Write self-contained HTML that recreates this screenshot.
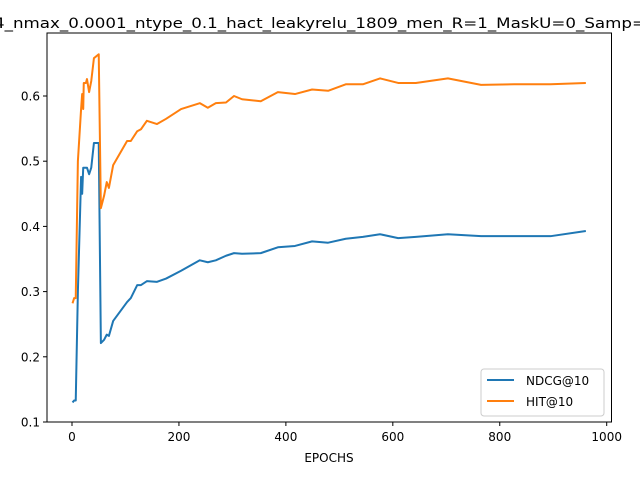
<!DOCTYPE html>
<html><head><meta charset="utf-8"><style>body{margin:0;background:#fff}svg{display:block;font-family:"DejaVu Sans","Liberation Sans",sans-serif}</style></head>
<body>
<svg id="chart" width="640" height="480" viewBox="0 0 640 480">
<rect x="0" y="0" width="640" height="480" fill="#fff"/>
<text x="-6" y="28" font-size="14.5" textLength="652" lengthAdjust="spacingAndGlyphs">4_nmax_0.0001_ntype_0.1_hact_leakyrelu_1809_men_R=1_MaskU=0_Samp=</text>
<g id="axes"></g>
<g id="series"></g>
<rect x="47" y="33" width="564.5" height="389" fill="none" stroke="#000" stroke-width="1"/>
<text x="329" y="462" font-size="12" text-anchor="middle">EPOCHS</text>
<g>
<rect x="481" y="369" width="123" height="47" rx="3" fill="#fff" fill-opacity="0.8" stroke="#ccc"/>
<line x1="487" y1="380" x2="514" y2="380" stroke="#1f77b4" stroke-width="2"/>
<text x="526" y="385" font-size="12">NDCG@10</text>
<line x1="487" y1="401" x2="514" y2="401" stroke="#ff7f0e" stroke-width="2"/>
<text x="526" y="406" font-size="12">HIT@10</text>
</g>
</svg>
<script>
const epochs=[1,4,7,11,17,19,21,22,26,28,32,36,41,50,54,60,65,69,77,103,110,122,129,140,159,176,204,239,254,269,288,303,318,353,385,417,449,479,512,544,576,610,643,703,765,827,895,961];
const hitValues=[.282,.29,.29,.50,.58,.603,.58,.62,.62,.626,.606,.623,.658,.664,.428,.447,.468,.459,.494,.531,.531,.546,.549,.562,.557,.565,.58,.589,.582,.589,.59,.6,.595,.592,.606,.603,.61,.608,.618,.618,.627,.62,.62,.627,.617,.618,.618,.62];
const ndcgValues=[.13,.133,.133,.30,.476,.45,.49,.49,.49,.49,.48,.49,.528,.528,.221,.226,.234,.232,.255,.284,.29,.31,.31,.316,.315,.32,.332,.348,.345,.348,.355,.359,.358,.359,.368,.37,.377,.375,.381,.384,.388,.382,.384,.388,.385,.385,.385,.393];
const xTicks=[0,200,400,600,800,1000];
const yTicks=[0.1,0.2,0.3,0.4,0.5,0.6];
const NS='http://www.w3.org/2000/svg';
function xs(v){return 72+v*0.5347;}
function ys(v){return 422-(v-0.1)*652;}
const axes=document.getElementById('axes');
xTicks.forEach(t=>{
const l=document.createElementNS(NS,'line');
l.setAttribute('x1',xs(t));l.setAttribute('x2',xs(t));l.setAttribute('y1',422);l.setAttribute('y2',426);l.setAttribute('stroke','#000');


axes.appendChild(l);
const tx=document.createElementNS(NS,'text');
tx.setAttribute('x',xs(t));tx.setAttribute('y',441);tx.setAttribute('font-size','12');tx.setAttribute('text-anchor','middle');tx.textContent=t;


axes.appendChild(tx);
});
yTicks.forEach(t=>{
const l=document.createElementNS(NS,'line');
l.setAttribute('x1',43);l.setAttribute('x2',47);l.setAttribute('y1',ys(t));l.setAttribute('y2',ys(t));l.setAttribute('stroke','#000');


axes.appendChild(l);
const tx=document.createElementNS(NS,'text');
tx.setAttribute('x',40);tx.setAttribute('y',ys(t)+4.5);tx.setAttribute('font-size','12');tx.setAttribute('text-anchor','end');tx.textContent=t.toFixed(1);


axes.appendChild(tx);
});
const series=document.getElementById('series');
function drawLine(vals,color,name){
const p=document.createElementNS(NS,'polyline');
p.setAttribute('points',epochs.map((e,i)=>xs(e)+','+ys(vals[i])).join(' '));
p.setAttribute('fill','none');p.setAttribute('stroke',color);p.setAttribute('stroke-width','2');p.setAttribute('stroke-linejoin','round');


series.appendChild(p);
}
drawLine(ndcgValues,'#1f77b4','ndcg-line');
drawLine(hitValues,'#ff7f0e','hit-line');
</script>
</body></html>
